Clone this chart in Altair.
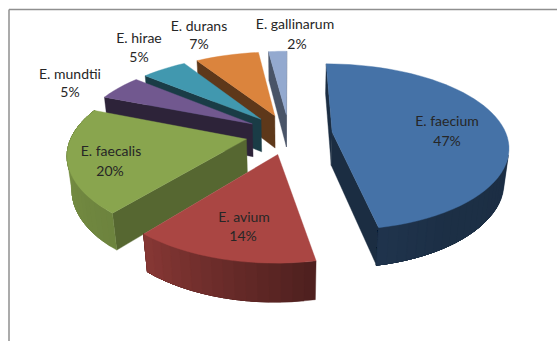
import math
import altair as alt
import pandas as pd

# Species shares of the exploded 3D pie, clockwise from twelve o'clock
species = ["E. faecium", "E. avium", "E. faecalis", "E. mundtii", "E. hirae", "E. durans", "E. gallinarum"]
shares = [47, 14, 20, 5, 5, 7, 2]
colors = ["#4572a7", "#aa4643", "#89a54e", "#71588f", "#4198af", "#db843d", "#93a9cf"]
cut_shade = [0.40, 0.42, 0.63, 0.40, 0.40, 0.43, 0.50]
label_x = [447, 244, 111, 70, 139, 199, 295]
label_y = [122, 218, 152, 75, 39, 27, 25]
percent_x = [447, 243, 110, 70, 139, 199, 297]
percent_y = [142, 237, 172, 93, 58, 45, 45]

# Perspective camera over the pie plane
X0, Y0 = 289.0, 134.0
A, B = 174.0, 81.0
KX, KY, M = 0.16, 0.178, 0.022
DEPTH = 34.0
EXPLODE = 0.25
W, H = 557, 341

# Painter's order: far slices first, then the near ones
draw_order = [6, 5, 4, 3, 2, 1, 0]


def project(u, v, z):
    return (
        X0 + A * u / (1 + KX * v + M * z),
        Y0 + (-B * v + DEPTH * z) / (1 + KY * v + M * z),
    )


def shade(hex_color, f):
    r, g, b = (int(hex_color[i:i + 2], 16) for i in (1, 3, 5))
    return "#%02x%02x%02x" % (int(r * f), int(g * f), int(b * f))


def wall_light(t):
    # Lighting of the rim as it turns around the pie
    stops = [(0, .40), (90, .40), (150, .42), (170, .46), (220, .80), (265, .86), (360, .90)]
    for (a, fa), (b, fb) in zip(stops, stops[1:]):
        if a <= t <= b:
            return fa + (fb - fa) * (t - a) / (b - a)
    return .9


rows = []
poly_id = [0]


def add_poly(points, color):
    pid = poly_id[0]
    poly_id[0] += 1
    closed = points + points[:1]
    for i, (x, y) in enumerate(closed):
        rows.append({"x": x, "y": y, "poly": pid, "seq": i, "paint": color})


def front_facing(q):
    area = sum(q[i][0] * q[(i + 1) % len(q)][1] - q[(i + 1) % len(q)][0] * q[i][1] for i in range(len(q)))
    return area < 0


def rim_point(ou, ov, t):
    return ou + math.sin(math.radians(t)), ov + math.cos(math.radians(t))


starts = []
acc = 0.0
total = sum(shares)
for s in shares:
    starts.append(acc)
    acc += 360.0 * s / total

for idx in draw_order:
    t0 = starts[idx]
    t1 = t0 + 360.0 * shares[idx] / total
    mid = math.radians((t0 + t1) / 2)
    ou, ov = EXPLODE * math.sin(mid), EXPLODE * math.cos(mid)
    steps = max(6, int((t1 - t0) / 3))
    angles = [t0 + (t1 - t0) * j / steps for j in range(steps + 1)]
    rim = [rim_point(ou, ov, t) for t in angles]

    cut_color = shade(colors[idx], cut_shade[idx])
    # Radial cut faces
    for a, b in (((ou, ov), rim[0]), (rim[-1], (ou, ov))):
        quad = [project(*a, 0), project(*b, 0), project(*b, 1), project(*a, 1)]
        if front_facing(quad):
            add_poly(quad, cut_color)
    # Outer rim: each strip runs on to the end of the slice and the next one
    # paints over it, so no gap can open between neighbouring strips
    for j in range(steps):
        tail = rim[j:]
        outline = [project(*p, 0) for p in tail] + [project(*p, 1) for p in reversed(tail)]
        a, b = rim[j], rim[j + 1]
        quad = [project(*a, 0), project(*b, 0), project(*b, 1), project(*a, 1)]
        if front_facing(quad):
            add_poly(outline, shade(colors[idx], wall_light((angles[j] + angles[j + 1]) / 2)))
    # Top surface
    add_poly([project(ou, ov, 0)] + [project(u, v, 0) for u, v in rim], colors[idx])

faces = pd.DataFrame(rows)

x_scale = alt.Scale(domain=[0, W], range=[0, W])
y_scale = alt.Scale(domain=[0, H], range=[0, H])
x_enc = alt.X("x:Q", scale=x_scale, axis=None)
y_enc = alt.Y("y:Q", scale=y_scale, axis=None)

pie = alt.Chart(faces).mark_line(strokeWidth=0.4, interpolate="linear").encode(
    x=x_enc,
    y=y_enc,
    detail="poly:Q",
    order="seq:Q",
    fill=alt.Fill("paint:N", scale=None),
    stroke=alt.Stroke("paint:N", scale=None),
)

labels = pd.DataFrame({
    "x": label_x + percent_x,
    "y": label_y + percent_y,
    "text": species + [f"{s}%" for s in shares],
})
text = alt.Chart(labels).mark_text(font="Lato", fontSize=14, color="#262626", align="center", baseline="middle").encode(
    x=x_enc, y=y_enc, text="text:N"
)

frame_df = pd.DataFrame({"x": [9, 9], "x2": [9, W], "y": [9.5, 9.5], "y2": [H, 9.5]})
frame = alt.Chart(frame_df).mark_rule(color="#8f8f8f", strokeWidth=1.5).encode(
    x=x_enc, x2="x2:Q", y=y_enc, y2="y2:Q"
)

chart = (frame + pie + text).properties(
    width=W, height=H, padding=0, background="white",
    autosize=alt.AutoSizeParams(type="none"),
).configure_view(stroke=None)

chart.save("out.html", embed_options={"renderer": "svg", "actions": False})
